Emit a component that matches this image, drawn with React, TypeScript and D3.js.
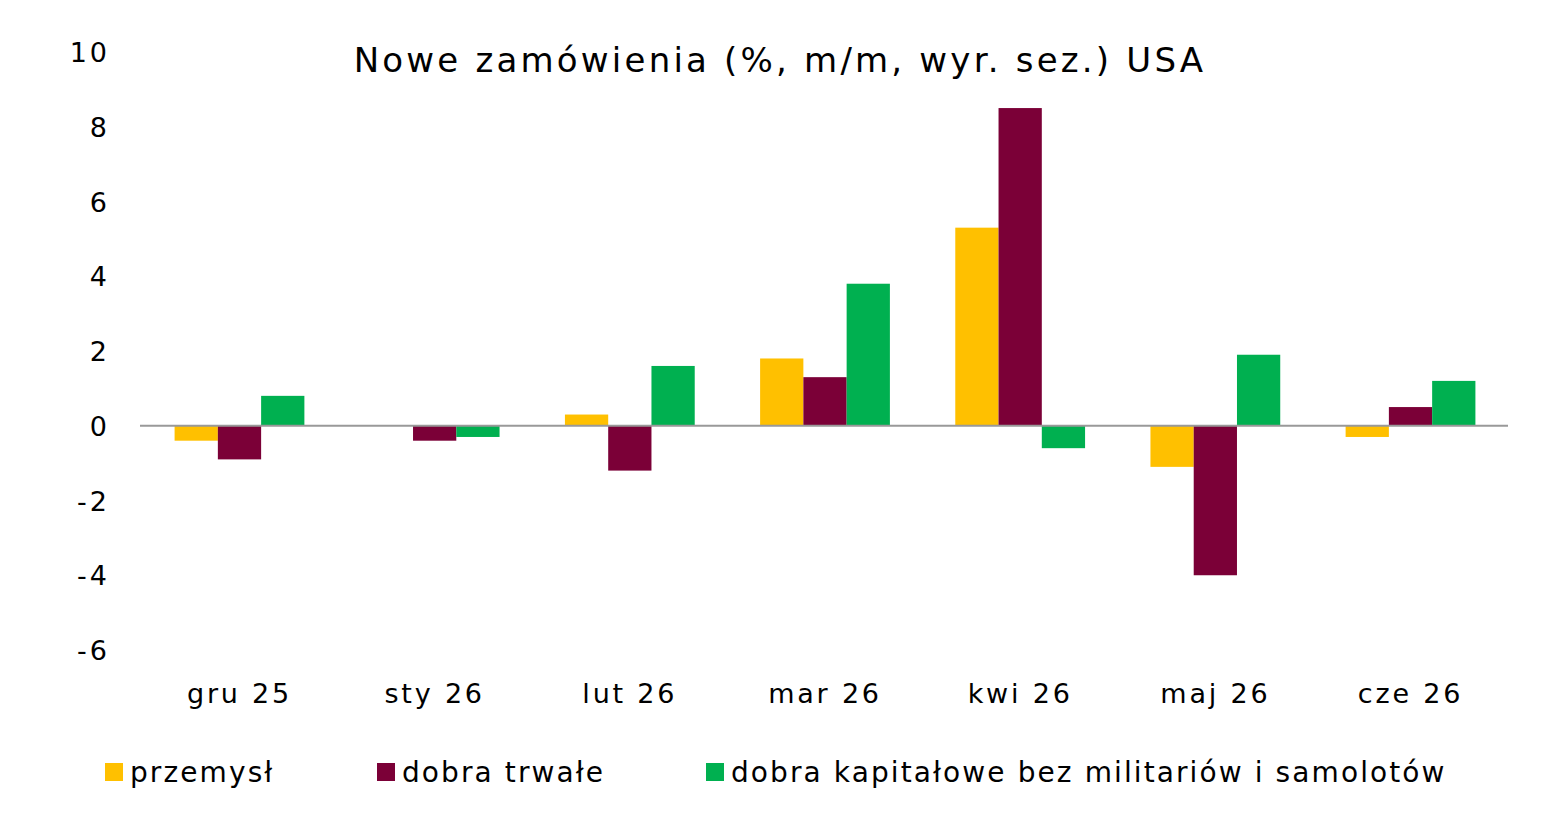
import React from 'react';
import * as d3 from 'd3';

const categories = ['gru 25', 'sty 26', 'lut 26', 'mar 26', 'kwi 26', 'maj 26', 'cze 26'];
const seriesNames = ['przemysł', 'dobra trwałe', 'dobra kapitałowe bez militariów i samolotów'];
const seriesColors = ['#FFC000', '#7B0037', '#00B050'];
const przemysl = [-0.4, 0, 0.3, 1.8, 5.3, -1.1, -0.3];
const dobraTrwale = [-0.9, -0.4, -1.2, 1.3, 8.5, -4.0, 0.5];
const dobraKapitalowe = [0.8, -0.3, 1.6, 3.8, -0.6, 1.9, 1.2];
const yTicks = [-6, -4, -2, 0, 2, 4, 6, 8, 10];
const legendX = [105, 377, 706];

const W = 1559, H = 815;
const FONT = '"DejaVu Sans", Verdana, sans-serif';

export default function App() {
  const series = [przemysl, dobraTrwale, dobraKapitalowe];
  const y = d3.scaleLinear().domain([-6, 10]).range([650, 52]);
  const x = d3.scaleBand().domain(categories).range([142, 1508]).paddingInner(0.335).paddingOuter(0.167);
  const inner = d3.scaleBand().domain(['0', '1', '2']).range([0, x.bandwidth()]);

  return (
    <svg width={W} height={H} style={{ position: 'absolute', left: 0, top: 0, background: '#fff' }} fontFamily={FONT}>
      <text x={780} y={72} textAnchor="middle" fontSize={34} letterSpacing={3.2} fill="#000">Nowe zamówienia (%, m/m, wyr. sez.) USA</text>
      {yTicks.map(t => (
        <text key={t} x={110} y={y(t) + 10} textAnchor="end" fontSize={27} letterSpacing={3} fill="#000">{t}</text>
      ))}
      {series.map((vals, si) =>
        vals.map((v, ci) => {
          const cx = (x(categories[ci]) as number) + (inner(String(si)) as number);
          return (
            <rect key={`${si}-${ci}`} x={cx} width={inner.bandwidth()}
              y={Math.min(y(v), y(0))} height={Math.abs(y(v) - y(0))} fill={seriesColors[si]} />
          );
        })
      )}
      <line x1={140} x2={1508} y1={y(0)} y2={y(0)} stroke="#999" strokeWidth={2} />
      {categories.map(c => (
        <text key={c} x={(x(c) as number) + x.bandwidth() / 2} y={703} textAnchor="middle" fontSize={27} letterSpacing={2.8} fill="#000">{c}</text>
      ))}
      {seriesNames.map((n, i) => (
        <g key={n}>
          <rect x={legendX[i]} y={763} width={18} height={18} fill={seriesColors[i]} />
          <text x={legendX[i] + 25} y={782} fontSize={28} letterSpacing={2.1} fill="#000">{n}</text>
        </g>
      ))}
    </svg>
  );
}
